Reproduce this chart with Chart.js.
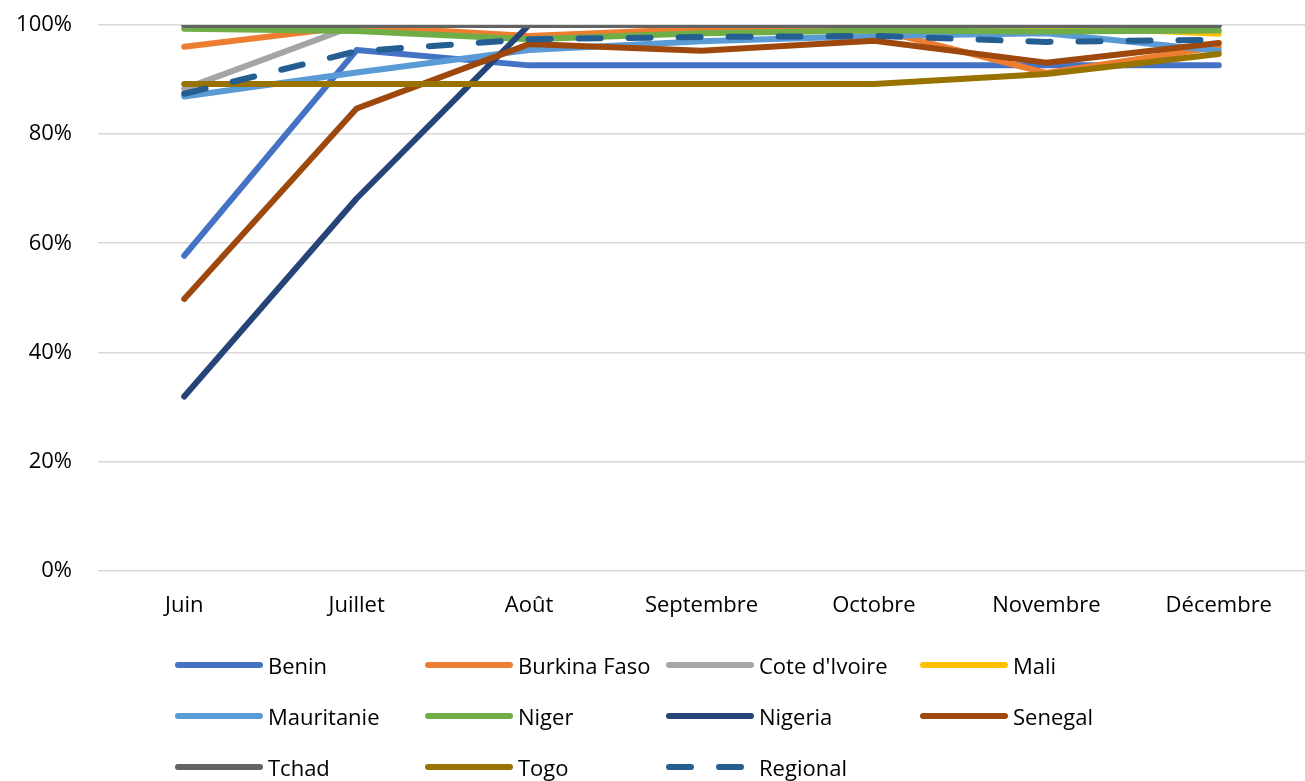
<!DOCTYPE html>
<html>
<head>
<meta charset="utf-8">
<script src="https://cdn.jsdelivr.net/npm/chart.js@4/dist/chart.umd.min.js"></script>
<style>
  html, body { margin: 0; padding: 0; background: #fff; }
  #wrap { position: relative; width: 1305px; height: 781px; }
  #legend { position: absolute; left: 0; top: 0; width: 1305px; height: 781px; pointer-events: none;
            font-family: "Open Sans", "Liberation Sans", Arial, sans-serif; font-size: 22px; color: #000; }
  .item { position: absolute; display: flex; align-items: center; height: 30px; white-space: nowrap; }
  .item svg { margin-right: 5px; }
</style>
</head>
<body>
<div id="wrap">
  <canvas id="chart" width="1305" height="781"></canvas>
  <div id="legend"></div>
</div>
<script>
// ---- data ----
const months = ['Juin', 'Juillet', 'Août', 'Septembre', 'Octobre', 'Novembre', 'Décembre'];
const yTicks = [0, 20, 40, 60, 80, 100];

const benin      = [57.7, 95.4, 92.6, 92.6, 92.6, 92.6, 92.6];
const burkina    = [96.0, 99.8, 98.0, 99.3, 99.3, 91.2, 96.0];
const coteIvoire = [88.3, 100, 100, 100, 100, 100, 100];
const mali       = [100, 100, 100, 100, 100, 99.8, 98.4];
const mauritanie = [86.9, 91.3, 95.4, 97.0, 98.0, 98.5, 95.3];
const niger      = [99.3, 98.9, 97.4, 98.5, 99.0, 98.8, 99.0];
const nigeria    = [31.9, 68.2, 100, 100, 100, 100, 100];
const senegal    = [49.8, 84.7, 96.5, 95.3, 97.1, 93.1, 96.7];
const tchad      = [100, 100, 100, 100, 100, 100, 100];
const togo       = [89.2, 89.2, 89.2, 89.2, 89.2, 91.0, 94.7];
const regional   = [87.4, 95.2, 97.4, 97.8, 98.0, 96.9, 97.3];

const seriesNames = ['Benin', 'Burkina Faso', "Cote d'Ivoire", 'Mali', 'Mauritanie', 'Niger',
                     'Nigeria', 'Senegal', 'Tchad', 'Togo', 'Regional'];
const seriesData = [benin, burkina, coteIvoire, mali, mauritanie, niger, nigeria, senegal, tchad, togo, regional];
const colors = ['#4472C4', '#ED7D31', '#A5A5A5', '#FFC000', '#5B9BD5', '#70AD47',
                '#264478', '#9E480E', '#636363', '#997300', '#255E91'];

const FONT = "'Open Sans', 'Liberation Sans', Arial, sans-serif";

const datasets = seriesNames.map((name, i) => ({
  label: name,
  data: seriesData[i],
  borderColor: colors[i],
  backgroundColor: colors[i],
  borderWidth: 6,
  borderCapStyle: 'round',
  borderJoinStyle: 'round',
  borderDash: name === 'Regional' ? [22, 28] : [],
  pointRadius: 0,
  tension: 0,
  order: seriesNames.length - i   // later series on top, like the original
}));

new Chart(document.getElementById('chart'), {
  type: 'line',
  data: { labels: months, datasets },
  options: {
    responsive: false,
    animation: false,
    layout: { padding: { top: 25, right: 0, bottom: 140, left: 0 } },
    plugins: { legend: { display: false }, tooltip: { enabled: false } },
    scales: {
      x: {
        offset: true,
        grid: { display: false, drawTicks: false },
        border: { display: false },
        ticks: { color: '#000', font: { family: FONT, size: 22 }, padding: 22, maxRotation: 0 }
      },
      y: {
        min: 0, max: 100,
        afterFit: s => { s.width = 98; s.paddingTop = 0; s.paddingBottom = 0; },
        afterBuildTicks: s => { s.ticks = yTicks.map(v => ({ value: v })); },
        grid: { color: '#d9d9d9', lineWidth: 1.5, drawTicks: false },
        border: { display: false },
        ticks: { color: '#000', font: { family: FONT, size: 22 }, padding: 26,
                 callback: v => v + '%' }
      }
    }
  }
});

// ---- legend: 4 columns x 3 rows ----
const legend = document.getElementById('legend');
const colX = [175, 425, 666, 920];
const rowY = [665, 716, 767];
seriesNames.forEach((name, i) => {
  const el = document.createElement('div');
  el.className = 'item';
  el.style.left = colX[i % 4] + 'px';
  el.style.top = (rowY[Math.floor(i / 4)] - 15) + 'px';
  const dash = name === 'Regional' ? ' stroke-dasharray="22 28"' : '';
  el.innerHTML = '<svg width="88" height="10"><line x1="3" y1="5" x2="85" y2="5" stroke="' + colors[i] +
    '" stroke-width="6" stroke-linecap="round"' + dash + '/></svg><span>' + name + '</span>';
  legend.appendChild(el);
});
</script>
</body>
</html>
